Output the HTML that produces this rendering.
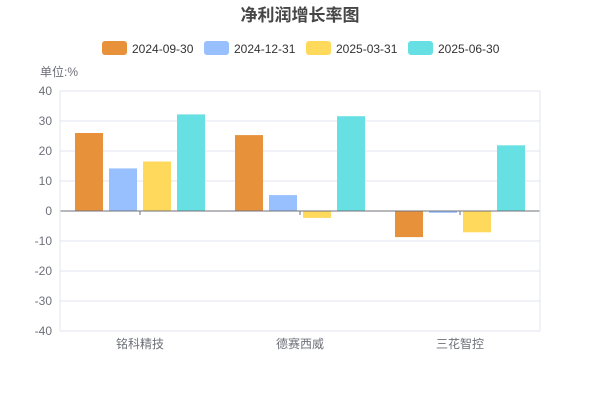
<!DOCTYPE html>
<html><head><meta charset="utf-8"><style>
body{margin:0;background:#fff;font-family:"Liberation Sans","Noto Sans CJK SC",sans-serif;}
</style></head><body>
<svg width="600" height="400" id="c" font-family="Liberation Sans, Noto Sans CJK SC, sans-serif">
<text x="300" y="21" text-anchor="middle" font-size="17" font-weight="bold" fill="#464646">净利润增长率图</text>
<text x="40" y="76" font-size="12" fill="#6e7079">单位:%</text>
<g id="grid"></g><g id="bars"></g><g id="axes"></g><g id="legend"></g>
</svg>
<script>
const categories=["铭科精技","德赛西威","三花智控"];
const seriesNames=["2024-09-30","2024-12-31","2025-03-31","2025-06-30"];
const s1=[26,25.3,-8.7];
const s2=[14.2,5.3,-0.6];
const s3=[16.5,-2.3,-7.1];
const s4=[32.2,31.6,21.9];
const yTicks=[40,30,20,10,0,-10,-20,-30,-40];
const colors=["#e8913b","#98c0ff","#ffd95c","#66e0e3"];
const series=[s1,s2,s3,s4];
const NS="http://www.w3.org/2000/svg";
const L=60,R=540,T=91,B=331,yMin=-40,yMax=40;
const y=v=>B-(v-yMin)/(yMax-yMin)*(B-T);
const gw=(R-L)/categories.length;
const x=i=>L+gw*i;
function mk(tag,attrs,parent){const e=document.createElementNS(NS,tag);for(const k in attrs)e.setAttribute(k,attrs[k]);document.getElementById(parent).appendChild(e);return e;}
yTicks.forEach(t=>{
 const g=mk("line",{x1:L,x2:R,y1:y(t),y2:y(t),stroke:"#e0e6f1"},"grid");
 
 
 const tx=mk("text",{x:L-8,y:y(t)+4,"text-anchor":"end","font-size":12,fill:"#6e7079"},"axes");
 tx.textContent=t;
 
 
});
const bw=28,gap=6;
categories.forEach((c,i)=>{
 const cx=x(i)+gw/2;
 series.forEach((s,j)=>{
  const bx=cx-(4*bw+3*gap)/2+j*(bw+gap);
  const v=s[i];
  const r=mk("rect",{x:bx,y:Math.min(y(v),y(0)),width:bw,height:Math.abs(y(v)-y(0)),fill:colors[j]},"bars");
  
  
 });
 const tx=mk("text",{x:cx,y:348,"text-anchor":"middle","font-size":12,fill:"#6e7079"},"axes");
 tx.textContent=c;
 
 
 const tk=mk("line",{x1:cx,x2:cx,y1:y(0),y2:y(0)+4,stroke:"#6e7079"},"axes");
 
 
});
const za=mk("line",{x1:L,x2:R,y1:y(0),y2:y(0),stroke:"#6e7079"},"axes");


const yl=mk("line",{x1:L,x2:L,y1:T,y2:B,stroke:"#e0e6f1"},"axes");


const yr=mk("line",{x1:R,x2:R,y1:T,y2:B,stroke:"#e0e6f1"},"axes");


const lx=[102,204,306,408];
seriesNames.forEach((n,j)=>{
 const r=mk("rect",{x:lx[j],y:41,width:25,height:14,rx:3,fill:colors[j]},"legend");
 
 
 const t=mk("text",{x:lx[j]+30,y:53,"font-size":12,fill:"#333"},"legend");
 t.textContent=n;
 
 
});
</script>
</body></html>
